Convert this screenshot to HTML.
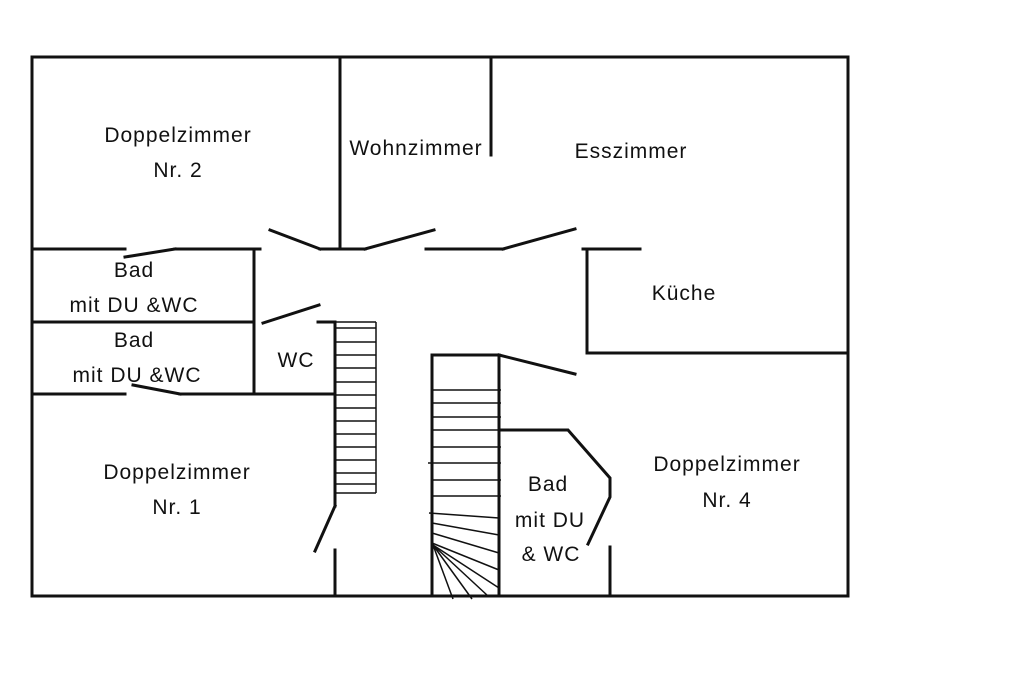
<!DOCTYPE html>
<html><head><meta charset="utf-8"><style>
body{margin:0;background:#fff}
svg text{font-family:"Liberation Sans",sans-serif;font-size:21px;letter-spacing:1px;fill:#111}
</style></head><body>
<svg width="1024" height="683" viewBox="0 0 1024 683" xmlns="http://www.w3.org/2000/svg">
<g stroke="#111" stroke-width="3" fill="none" stroke-linecap="square">
<rect x="32" y="57" width="816" height="539"/>
<line x1="340" y1="57" x2="340" y2="249"/>
<line x1="491" y1="57" x2="491" y2="155"/>
<line x1="32" y1="249" x2="125" y2="249"/>
<line x1="125" y1="257" x2="175" y2="249"/>
<line x1="175" y1="249" x2="260" y2="249"/>
<line x1="270" y1="230" x2="320" y2="249"/>
<line x1="320" y1="249" x2="365" y2="249"/>
<line x1="365" y1="249" x2="434" y2="230"/>
<line x1="426" y1="249" x2="503" y2="249"/>
<line x1="503" y1="249" x2="575" y2="229"/>
<line x1="583" y1="249" x2="640" y2="249"/>
<line x1="587" y1="249" x2="587" y2="353"/>
<line x1="587" y1="353" x2="848" y2="353"/>
<line x1="254" y1="249" x2="254" y2="393"/>
<line x1="32" y1="322" x2="254" y2="322"/>
<line x1="263" y1="323" x2="319" y2="305"/>
<line x1="318" y1="322" x2="335" y2="322"/>
<line x1="32" y1="394" x2="125" y2="394"/>
<line x1="133" y1="385" x2="180" y2="394"/>
<line x1="180" y1="394" x2="335" y2="394"/>
<line x1="335" y1="322" x2="335" y2="506"/>
<line x1="335" y1="506" x2="315" y2="551"/>
<line x1="335" y1="550" x2="335" y2="596"/>
</g>
<g stroke="#111" stroke-width="1.5">
<line x1="376" y1="322" x2="376" y2="493"/>
<line x1="335" y1="322" x2="376" y2="322"/>
<line x1="335" y1="328" x2="376" y2="328"/>
<line x1="335" y1="342" x2="376" y2="342"/>
<line x1="335" y1="355" x2="376" y2="355"/>
<line x1="335" y1="368" x2="376" y2="368"/>
<line x1="335" y1="382" x2="376" y2="382"/>
<line x1="335" y1="395" x2="376" y2="395"/>
<line x1="335" y1="408" x2="376" y2="408"/>
<line x1="335" y1="421" x2="376" y2="421"/>
<line x1="335" y1="434" x2="376" y2="434"/>
<line x1="335" y1="447" x2="376" y2="447"/>
<line x1="335" y1="460" x2="376" y2="460"/>
<line x1="335" y1="473" x2="376" y2="473"/>
<line x1="335" y1="484" x2="376" y2="484"/>
<line x1="335" y1="493" x2="376" y2="493"/>
<line x1="432" y1="390" x2="501" y2="390"/>
<line x1="432" y1="403" x2="501" y2="403"/>
<line x1="432" y1="417" x2="501" y2="417"/>
<line x1="432" y1="430" x2="501" y2="430"/>
<line x1="432" y1="447" x2="501" y2="447"/>
<line x1="428" y1="463" x2="501" y2="463"/>
<line x1="432" y1="480" x2="501" y2="480"/>
<line x1="432" y1="496" x2="501" y2="496"/>
<line x1="429" y1="513" x2="499" y2="518"/>
<line x1="432" y1="523" x2="499" y2="535"/>
<line x1="432" y1="533" x2="499" y2="553"/>
<line x1="432" y1="543" x2="499" y2="570"/>
<line x1="433" y1="545" x2="499" y2="588"/>
<line x1="433" y1="545" x2="488" y2="596"/>
<line x1="433" y1="545" x2="472" y2="599"/>
<line x1="433" y1="545" x2="453" y2="599"/>
</g>
<g stroke="#111" stroke-width="3" fill="none" stroke-linecap="square">
<line x1="432" y1="355" x2="432" y2="596"/>
<line x1="499" y1="355" x2="499" y2="596"/>
<line x1="432" y1="355" x2="499" y2="355"/>
<line x1="499" y1="355" x2="575" y2="374"/>
<polyline points="499,430 568,430 610,478 610,497 588,544"/>
<line x1="610" y1="547" x2="610" y2="596"/>
</g>
<g text-anchor="middle">
<text x="178" y="142">Doppelzimmer</text>
<text x="178" y="177">Nr. 2</text>
<text x="416" y="155">Wohnzimmer</text>
<text x="631" y="158">Esszimmer</text>
<text x="684" y="300">Küche</text>
<text x="134" y="277">Bad</text>
<text x="134" y="312">mit DU &amp;WC</text>
<text x="134" y="347">Bad</text>
<text x="137" y="382">mit DU &amp;WC</text>
<text x="296" y="367">WC</text>
<text x="177" y="479">Doppelzimmer</text>
<text x="177" y="514">Nr. 1</text>
<text x="548" y="491">Bad</text>
<text x="550" y="527">mit DU</text>
<text x="551" y="561">&amp; WC</text>
<text x="727" y="471">Doppelzimmer</text>
<text x="727" y="507">Nr. 4</text>
</g>
</svg>
</body></html>
